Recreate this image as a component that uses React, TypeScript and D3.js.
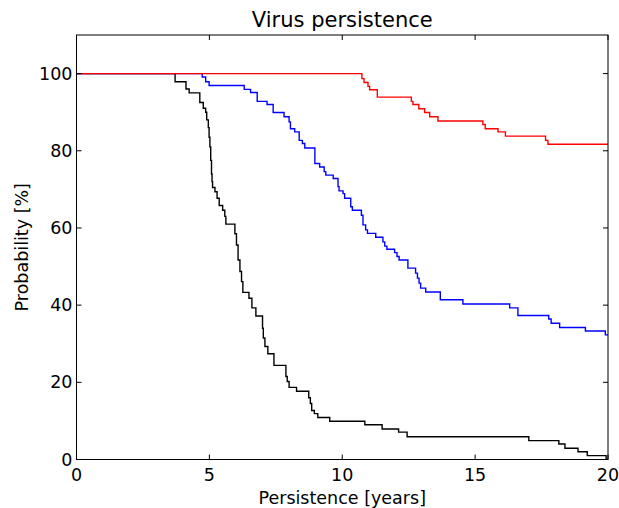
import React from "react";
import * as d3 from "d3";

// Kaplan–Meier style step data: [time (years), probability %] (value after the step)
const blackTimes = [0, 3.71, 4.12, 4.24, 4.64, 4.77, 4.86, 4.9, 4.96, 4.99, 5.02, 5.05, 5.08, 5.1, 5.12, 5.21, 5.29, 5.37, 5.5, 5.58, 5.62, 5.96, 6.02, 6.08, 6.15, 6.21, 6.26, 6.49, 6.6, 6.75, 7.0, 7.03, 7.09, 7.2, 7.43, 7.88, 7.93, 8.0, 8.28, 8.74, 8.8, 8.85, 8.95, 9.08, 9.53, 10.85, 11.5, 12.12, 12.44, 17.02, 18.15, 18.38, 18.87, 19.22, 19.93, 20];
const blackValues = [100, 97.9, 96.0, 95.0, 92.5, 91.0, 90.0, 88.0, 86.0, 83.5, 81.0, 77.5, 74.0, 72.0, 70.5, 69.4, 67.7, 65.8, 64.6, 63.0, 61.0, 58.5, 55.6, 51.7, 48.7, 46.1, 43.3, 41.8, 39.3, 37.2, 34.0, 31.5, 29.3, 27.4, 24.4, 21.5, 20.2, 18.7, 17.7, 16.0, 14.5, 12.7, 11.9, 10.9, 9.9, 9.0, 7.9, 7.1, 5.9, 4.9, 4.0, 2.9, 2.0, 1.0, 0, 0];

const blueTimes = [0, 4.73, 4.86, 4.99, 6.31, 6.55, 6.8, 7.17, 7.4, 7.81, 8.0, 8.05, 8.21, 8.38, 8.5, 8.59, 8.97, 9.15, 9.32, 9.38, 9.66, 9.84, 9.88, 10.03, 10.09, 10.32, 10.38, 10.72, 10.78, 10.88, 10.95, 11.26, 11.53, 11.6, 11.68, 11.97, 12.06, 12.14, 12.47, 12.76, 12.83, 12.89, 12.95, 13.14, 13.69, 14.54, 16.3, 16.61, 17.77, 17.86, 18.18, 19.15, 19.9, 20];
const blueValues = [100, 99.1, 97.9, 96.9, 95.9, 95.1, 92.8, 92.0, 89.9, 88.8, 87.5, 85.7, 84.9, 82.7, 81.9, 80.7, 76.7, 75.8, 74.6, 73.7, 72.8, 70.7, 69.6, 68.9, 67.7, 65.5, 64.6, 63.3, 60.8, 59.5, 58.6, 57.6, 56.4, 55.3, 54.5, 53.6, 52.6, 51.7, 49.6, 48.3, 47.0, 45.7, 44.4, 43.4, 41.4, 40.3, 39.3, 37.3, 36.4, 35.3, 34.2, 33.3, 32.3, 32.3];

const redTimes = [0, 10.74, 10.82, 10.97, 11.03, 11.32, 12.6, 12.66, 12.88, 13.1, 13.29, 13.6, 15.29, 15.38, 15.86, 16.14, 17.65, 17.74, 20];
const redValues = [100, 98.7, 97.7, 96.7, 95.8, 93.9, 92.8, 92.0, 90.9, 89.9, 88.8, 87.7, 86.8, 85.7, 84.9, 83.8, 82.7, 81.7, 81.7];

const xTicks = [0, 5, 10, 15, 20];
const yTicks = [0, 20, 40, 60, 80, 100];

const series = [
  { name: "black", color: "#000000", times: blackTimes, values: blackValues },
  { name: "blue", color: "#0000ff", times: blueTimes, values: blueValues },
  { name: "red", color: "#ff0000", times: redTimes, values: redValues },
];

const W = 619;
const H = 508;
const left = 76.5;
const right = 608;
const top = 35;
const bottom = 459.5;
const font = "'DejaVu Sans', sans-serif";

export default function App() {
  const x = d3.scaleLinear().domain([0, 20]).range([left, right]);
  const y = d3.scaleLinear().domain([0, 110]).range([bottom, top]);
  const line = d3
    .line<[number, number]>()
    .x((d) => x(d[0]))
    .y((d) => y(d[1]))
    .curve(d3.curveStepAfter);

  return (
    <svg
      width={W}
      height={H}
      style={{ position: "absolute", left: 0, top: 0, background: "#fff" }}
      fontFamily={font}
    >
      <rect x={0} y={0} width={W} height={H} fill="#fff" />
      <defs>
        <clipPath id="plotclip">
          <rect x={left} y={top} width={right - left} height={bottom - top} />
        </clipPath>
      </defs>
      <g clipPath="url(#plotclip)">
        {series.map((s) => (
          <path
            key={s.name}
            d={line(s.times.map((t, i) => [t, s.values[i]] as [number, number])) || ""}
            fill="none"
            stroke={s.color}
            strokeWidth={1.4}
          />
        ))}
      </g>
      {/* frame */}
      <rect
        x={left}
        y={top}
        width={right - left}
        height={bottom - top}
        fill="none"
        stroke="#000"
        strokeWidth={1}
      />
      {/* x ticks */}
      {xTicks.map((t) => (
        <g key={"x" + t}>
          <line x1={x(t)} x2={x(t)} y1={bottom} y2={bottom - 5} stroke="#000" />
          <line x1={x(t)} x2={x(t)} y1={top} y2={top + 5} stroke="#000" />
          <text x={x(t)} y={481} textAnchor="middle" fontSize={17.5} fill="#000">
            {t}
          </text>
        </g>
      ))}
      {/* y ticks */}
      {yTicks.map((t) => (
        <g key={"y" + t}>
          <line x1={left} x2={left + 5} y1={y(t)} y2={y(t)} stroke="#000" />
          <line x1={right} x2={right - 5} y1={y(t)} y2={y(t)} stroke="#000" />
          <text x={left - 4} y={y(t) + 6} textAnchor="end" fontSize={17.5} fill="#000">
            {t}
          </text>
        </g>
      ))}
      <text x={(left + right) / 2} y={27.3} textAnchor="middle" fontSize={21} fill="#000">
        Virus persistence
      </text>
      <text x={(left + right) / 2} y={504} textAnchor="middle" fontSize={17.5} fill="#000">
        Persistence [years]
      </text>
      <text
        transform={`translate(27.5,${(top + bottom) / 2}) rotate(-90)`}
        textAnchor="middle"
        fontSize={17.5}
        fill="#000"
      >
        Probability [%]
      </text>
    </svg>
  );
}
